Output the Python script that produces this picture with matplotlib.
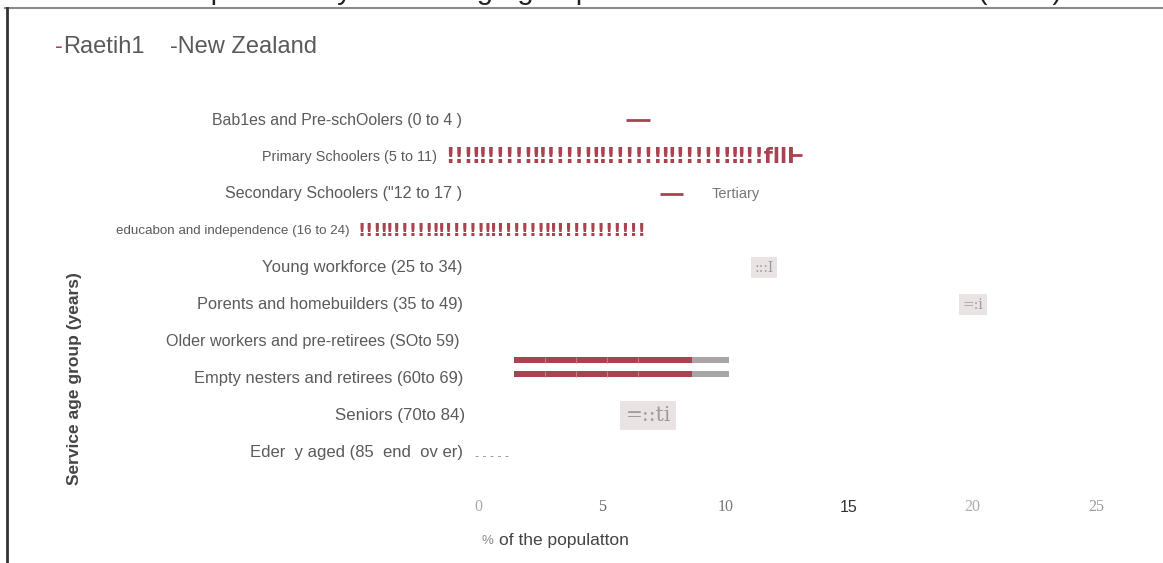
import matplotlib.pyplot as plt

# --- data ---
categories = [
    "Bab1es and Pre-schOolers (0 to 4 )",
    "Primary Schoolers (5 to 11)",
    'Secondary Schoolers ("12 to 17 )',
    "educabon and independence (16 to 24)",
    "Young workforce (25 to 34)",
    "Porents and homebuilders (35 to 49)",
    "Older workers and pre-retirees (SOto 59)",
    "Empty nesters and retirees (60to 69)",
    "Seniors (70to 84)",
    "Eder  y aged (85  end  ov er)",
]
series = ["Raetih1", "New Zealand"]
ticks = [0, 5, 10, 15, 20, 25]

# short red dashes (start, end) per row
dash_rows = [0, 1, 2]
dash_start = [6.0, 12.6, 7.35]
dash_end = [6.95, 13.1, 8.3]

# stacked bars near the empty nesters row
bar_start = 1.47
raetihi_end = 8.65
nz_end = 10.15

# boxed fragments
box_text = [":::I", "=:i", "=::ti"]
box_x = [11.57, 20.02, 6.88]
box_row = [4, 5, 8]

RED = "#a8434f"
GREY = "#a9a5a7"
TXT = "#5a5a5a"

W, H = 1163, 563
PX = 24.72   # pixels per % unit
X0 = 478     # pixel of 0 %
ROW0, ROWH = 120, 36.9

fig = plt.figure(figsize=(W / 100, H / 100), dpi=100)
ax = fig.add_axes([0, 0, 1, 1])
ax.set_xlim(-X0 / PX, (W - X0) / PX)
ax.set_ylim((H - ROW0) / ROWH, -ROW0 / ROWH)
ax.axis("off")


def dx(px):
    return (px - X0) / PX


def dy(py):
    return (py - ROW0) / ROWH


# frame and cut-off title
ax.plot([dx(5), dx(W)], [dy(8), dy(8)], color="#8a8a8a", lw=1.5, clip_on=False)
ax.plot([dx(7), dx(7)], [dy(8), dy(H)], color="#333333", lw=2, clip_on=False)
fig.text(175 / W, 1 + 1 / H, "Population by service age group for Raetihi and New Zealand (2013)",
         fontsize=21, color="#222222", va="baseline", ha="left", family="Liberation Sans")

# legend
fig.text(55 / W, 1 - 47 / H, "-", color=RED, fontsize=17, va="center", family="Liberation Sans")
fig.text(63 / W, 1 - 47 / H, series[0], color=TXT, fontsize=17, va="center", family="Liberation Sans")
fig.text(170 / W, 1 - 47 / H, "-" + series[1], color=TXT, fontsize=17, va="center",
         family="Liberation Sans")

# category labels
label_right = [462, 437, 462, 350, 463, 463, 460, 463, 465, 463]
label_size = [11.4, 10.4, 11.6, 9.6, 12, 11.8, 11.6, 11.9, 12.2, 12]
for i, name in enumerate(categories):
    ax.text(dx(label_right[i]), i, name, ha="right", va="center", color=TXT,
            fontsize=label_size[i], family="Liberation Sans")

# garbled red bars rendered as glyph runs
ax.text(dx(445), 1, "!!!‼!!!!!‼!!!!!‼!!!!!!‼!!!!!!‼!!fllI", ha="left", va="center",
        color=RED, fontsize=15, fontweight="bold", family="DejaVu Sans")
ax.text(dx(357), 3, "!!!‼!!!!!‼!!!!!‼!!!!!!‼!!!!!!!!!!!", ha="left", va="center",
        color=RED, fontsize=13, fontweight="bold", family="DejaVu Sans")

# short dashes
for r, s, e in zip(dash_rows, dash_start, dash_end):
    ax.hlines(r - 0.05 if r == 1 else r, s, e, color=RED, lw=2)
ax.text(dx(712), 2, "Tertiary", ha="left", va="center", color="#777777", fontsize=10.5,
        family="Liberation Sans")

# stacked bars
for yb in [dy(360), dy(374)]:
    ax.barh(yb, raetihi_end - bar_start, left=bar_start, height=0.17, color=RED,
            edgecolor="none")
    ax.barh(yb, nz_end - raetihi_end, left=raetihi_end, height=0.17, color=GREY,
            edgecolor="none")
    for k in range(1, 5):
        ax.vlines(bar_start + k * 1.25, yb - 0.085, yb + 0.085, color="#c87a84", lw=0.8)

# boxed fragments
box_size = [10, 10, 14.5]
for t, x, r, s in zip(box_text, box_x, box_row, box_size):
    ax.text(x, r, t, ha="center", va="center", color="#a09a9c", fontsize=s,
            family="DejaVu Serif",
            bbox=dict(boxstyle="square,pad=0.25", facecolor="#e9e3e4", edgecolor="none"))

# elderly dotted dash
ax.text(dx(475), 9.1, "- - - - -", ha="left", va="center", color="#888888", fontsize=8)

# y axis title
fig.text(75 / W, 1 - 379 / H, "Service age group (years)", rotation=90, ha="center",
         va="center", fontsize=12.5, fontweight="bold", color="#444444",
         family="Liberation Sans")

# x ticks and title
tick_col = ["#aaaaaa", "#666666", "#777777", "#333333", "#aaaaaa", "#999999"]
tick_fam = ["Liberation Serif", "Liberation Serif", "Liberation Serif", "Liberation Sans",
            "Liberation Serif", "Liberation Serif"]
for v, c, f in zip(ticks, tick_col, tick_fam):
    ax.text(v, dy(507), str(v), ha="center", va="center", color=c, fontsize=11.5, family=f)
ax.text(dx(482), dy(541), "%", ha="left", va="center", color="#888888", fontsize=9.5,
        family="Liberation Sans")
ax.text(dx(499), dy(540), "of the populatton", ha="left", va="center", color="#444444",
        fontsize=12.5, family="Liberation Sans")

fig.savefig("out.png", dpi=100)
